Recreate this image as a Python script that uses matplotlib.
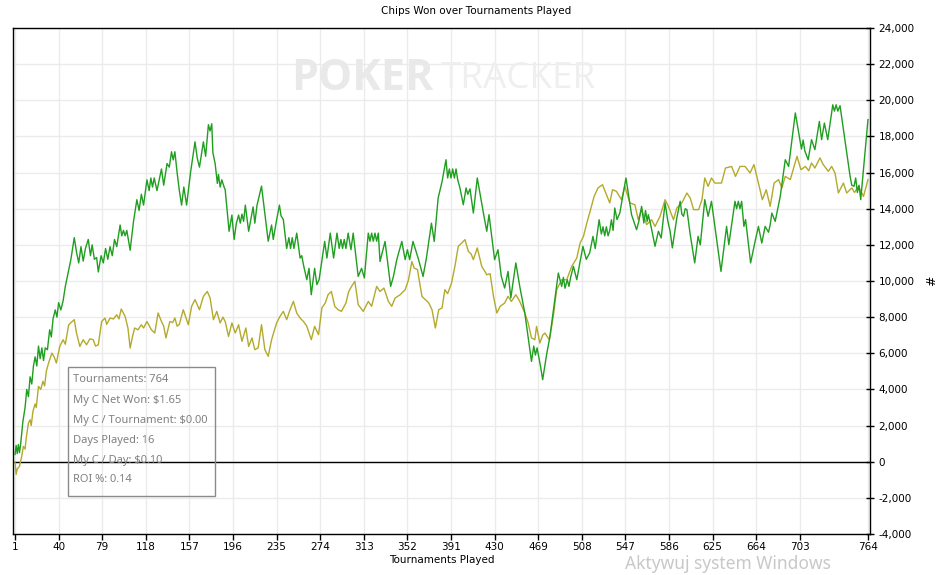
import matplotlib
matplotlib.use("Agg")
import matplotlib.pyplot as plt
from matplotlib.patches import Rectangle
from matplotlib.ticker import FuncFormatter

# ---------------- data ----------------
GREEN_T = [1, 2, 3, 4, 5, 6, 8, 10, 11.5, 13, 14.5, 16, 17.5, 19, 20.5, 22, 23.5, 25, 26.5, 28, 30, 32, 33.5, 35, 37, 38.5, 40, 42, 44, 46, 49, 51, 54, 56, 58, 60, 62, 64, 66.5, 68.5, 70, 72, 74, 75.5, 78, 80, 82, 84, 86, 88, 90, 92, 95, 96.5, 98, 99.5, 101, 104, 107, 110, 112, 114, 116, 119, 121, 122.5, 124, 125.5, 128, 132, 134, 137, 139, 141, 142.5, 144, 146, 148, 150, 152, 154.5, 158, 162, 164, 166, 169.5, 171.5, 174, 175.5, 177, 178, 180, 182, 183, 184.5, 186, 188, 189, 192.5, 195, 197, 199, 201, 202.5, 204, 205.5, 207, 210, 214, 215.5, 217.5, 221.5, 227.5, 230.5, 232, 234.5, 237.5, 239, 241, 244, 246, 247.5, 249, 250.5, 253, 256, 257.5, 259, 262, 264, 266, 269, 271, 273, 278, 280, 283, 286, 289, 291, 292.5, 294, 295.5, 297, 299, 301.5, 303.5, 308, 311, 313.5, 317, 318.5, 320, 321.5, 323, 324.5, 326, 327.5, 332, 337, 339.5, 342.5, 347, 350, 352, 354, 357, 362, 366, 369, 373.5, 376, 379.5, 383, 386.5, 388, 389.5, 391, 392.5, 394, 395.5, 397, 399, 402, 404.5, 406, 408, 411, 414.5, 420, 423, 425, 430, 433, 436, 439, 442, 444.5, 449, 452.5, 457, 463, 465, 466.5, 468, 471, 473, 476.5, 479.5, 487, 490, 491.5, 493, 495, 496.5, 498, 500.5, 503.5, 509, 512, 515, 518, 520, 523.5, 525.5, 527, 528.5, 530, 531.5, 533, 534.5, 536, 537.5, 539.5, 542, 547.5, 552.5, 557, 559, 561.5, 563.5, 565, 566.5, 567.5, 570, 573.5, 576.5, 579, 582.5, 585, 587, 589, 593, 596, 597.5, 599, 600.5, 602, 605, 609, 612, 614, 618, 621, 624, 632.5, 637.5, 639.5, 645, 646.5, 648, 649.5, 651, 653, 654.5, 659, 663, 664.5, 666, 669, 672, 675, 676.5, 678, 681, 685.5, 690, 693, 699, 703, 704.5, 706, 707.5, 710.5, 713.5, 716.5, 720.5, 722.5, 725, 728, 732.5, 734, 735.5, 737, 739, 748, 749.5, 751.5, 753, 754.5, 756, 757.5, 764]
GREEN_V = [400, 900, 450, 950, 500, 950, 2200, 3000, 4000, 3600, 4700, 4300, 5300, 5800, 5300, 6400, 5700, 6300, 5600, 6300, 6200, 7300, 6900, 7900, 8400, 8000, 8800, 8400, 8900, 9700, 10600, 11200, 12400, 11600, 11000, 11900, 11100, 11800, 12300, 11400, 12000, 11200, 11300, 10500, 11400, 11000, 11800, 11200, 11900, 11400, 12300, 11900, 13100, 12500, 12800, 12500, 12800, 11700, 13300, 14500, 13900, 14800, 14200, 15600, 15000, 15700, 15200, 15700, 15000, 16200, 15300, 16500, 16300, 17150, 16700, 17150, 16000, 15000, 14200, 15200, 14200, 16000, 17700, 16800, 16300, 17700, 16900, 18650, 18300, 18700, 17100, 16500, 15400, 15900, 15200, 15600, 15200, 15050, 12750, 13650, 12300, 13200, 13650, 13200, 13700, 13300, 14200, 12750, 14100, 13200, 14200, 15250, 12200, 13100, 12300, 13200, 14200, 13600, 13400, 11800, 12400, 11800, 12400, 11800, 12650, 11270, 11400, 10900, 10070, 10700, 9240, 10700, 9800, 10070, 12190, 11270, 12650, 11270, 12650, 11800, 12300, 11800, 12300, 11800, 12650, 11730, 12650, 10250, 10700, 10170, 12650, 12200, 12650, 12200, 12650, 12200, 12650, 11080, 12190, 9700, 10250, 11180, 12190, 11180, 11730, 11180, 12190, 11180, 10250, 11270, 13200, 12190, 14590, 15500, 16710, 15700, 16200, 15700, 16200, 15700, 16200, 15600, 15150, 14220, 15150, 14800, 15100, 13760, 15700, 13760, 12750, 13670, 11180, 11730, 10250, 9610, 10530, 9060, 11000, 9700, 8230, 5550, 6400, 5900, 6300, 5300, 4540, 5920, 6930, 10440, 9700, 10200, 9600, 10070, 9700, 10200, 10810, 10070, 11920, 11200, 11550, 12470, 11800, 13390, 12600, 13000, 12500, 13000, 12500, 12800, 13390, 12800, 14040, 13400, 13760, 15700, 13670, 12840, 13300, 14130, 13210, 13900, 13300, 13670, 13000, 11920, 12750, 12380, 14320, 13300, 12750, 11830, 13490, 14410, 13700, 13580, 14000, 13950, 12560, 11000, 12470, 12000, 14500, 13580, 14410, 10530, 13020, 12010, 14410, 14000, 14410, 14000, 14410, 13020, 13400, 11000, 12190, 12600, 13020, 12100, 13020, 12700, 13100, 13760, 13300, 14680, 16710, 16340, 19300, 17820, 17300, 17800, 17200, 16710, 17820, 17270, 18830, 17820, 18740, 17820, 19750, 19400, 19750, 19400, 19700, 15790, 15300, 15240, 15700, 14900, 15300, 14500, 18930]

OLIVE_T = [1, 2, 3, 5, 7, 8.5, 10, 11, 13, 14.5, 15.5, 17, 19, 20, 22, 24, 26, 27.5, 29, 31, 34, 36, 38, 41, 44, 46, 49, 54, 56, 59, 62, 65, 68, 71, 73, 75.5, 78.5, 81.5, 83, 86, 89, 92, 94, 96, 99.5, 102, 104, 106, 108, 111, 114, 116, 119, 123, 126, 129, 132, 134, 136, 139.5, 142, 144, 146, 148, 151.5, 156, 159, 162, 166, 169.5, 173, 175.5, 178.5, 181.5, 184.5, 187, 189, 192, 195, 198, 201, 204, 207.5, 210, 213, 215.5, 218.5, 221.5, 224.5, 227.5, 230.5, 235, 238, 241, 244, 247, 250, 253, 256, 259, 262, 266, 269, 272.5, 275.5, 278.5, 281, 284, 287, 290, 293, 297, 299.5, 302, 305, 308, 312.5, 317, 320, 324.5, 327.5, 331, 335, 338, 341, 345.5, 350, 353, 356, 358, 361, 365, 368, 371, 374, 377, 380, 383, 385.5, 388, 391.5, 394.5, 397.5, 400.5, 403.5, 406.5, 409, 411, 414.5, 418.5, 423, 426, 429, 432, 435, 439, 442, 445, 449, 452.5, 457, 460, 463, 466, 467.5, 470.5, 473, 475, 479, 482.5, 485.5, 490, 494.5, 499, 503.5, 506.5, 509.5, 512.5, 515, 519, 522.5, 526.5, 530, 533, 535.5, 539, 543.5, 546.5, 551, 555.5, 558.5, 561.5, 566, 570.5, 573.5, 578, 582.5, 585.5, 590, 593, 597.5, 602, 605, 608, 612.5, 615.5, 618, 621, 624, 627, 633, 636.5, 642, 645.5, 649.5, 654, 658.5, 662, 666, 669.5, 673, 676.5, 680, 684, 687, 690, 694.5, 700.5, 704, 708, 711, 713.5, 716.5, 721, 724, 728.5, 731.5, 734.5, 737.5, 742, 745, 749.5, 752, 755.5, 760, 764]
OLIVE_V = [0, -700, -400, -260, 300, 850, 700, 1300, 2140, 2320, 2000, 2780, 3200, 3000, 4170, 4000, 4450, 4200, 5000, 5460, 6010, 5800, 5460, 6380, 6750, 6500, 7580, 7860, 7120, 6380, 6750, 6470, 6800, 6750, 6400, 6470, 7760, 7950, 7600, 7950, 7900, 8130, 7900, 8450, 8040, 7400, 6290, 6900, 7400, 7300, 7580, 7400, 7760, 7300, 7120, 8230, 7760, 7500, 6850, 7760, 7700, 7950, 7500, 7600, 8410, 7580, 8600, 8970, 8410, 9150, 9420, 9060, 7860, 8320, 7680, 8000, 7760, 6930, 7680, 7120, 7580, 6660, 7400, 6380, 6850, 6200, 6300, 7580, 6200, 5830, 6750, 7680, 8040, 8320, 7860, 8410, 8870, 8230, 7950, 7760, 7500, 6750, 7490, 7030, 8510, 8780, 9240, 9420, 8600, 8410, 8320, 8780, 9420, 9700, 9980, 8690, 8320, 8870, 8600, 9700, 9420, 9610, 8870, 8600, 9060, 9240, 9520, 10070, 11080, 10720, 10630, 9150, 8970, 8800, 8410, 7400, 8410, 8510, 9520, 9300, 9890, 10810, 11920, 12100, 12290, 11640, 11500, 11180, 11830, 10810, 10350, 10400, 9150, 8230, 8600, 8780, 9150, 8870, 9240, 8870, 8230, 7680, 6850, 6750, 7490, 6570, 7000, 7120, 6750, 8040, 9520, 10070, 10070, 10810, 11270, 12100, 12470, 13210, 13760, 14680, 15150, 15330, 14780, 14320, 15050, 14960, 14500, 15240, 14320, 14220, 13390, 13950, 13120, 13390, 13020, 13580, 14500, 14130, 13390, 14040, 14320, 14870, 14590, 13950, 13950, 14500, 15700, 15240, 15700, 15420, 15420, 16250, 16340, 15790, 16340, 16340, 15980, 16440, 15420, 14500, 15050, 14130, 15420, 15610, 15150, 15790, 15610, 16900, 16160, 16340, 16100, 16530, 16250, 16810, 16440, 16070, 16340, 15980, 14870, 15420, 14870, 15150, 14900, 15240, 14680, 15610]

X_TICKS = [1, 40, 79, 118, 157, 196, 235, 274, 313, 352, 391, 430, 469, 508, 547, 586, 625, 664, 703, 764]
Y_TICKS = list(range(-4000, 24001, 2000))

STATS = ["Tournaments: 764", "My C Net Won: $1.65", "My C / Tournament: $0.00",
         "Days Played: 16", "My C / Day: $0.10", "ROI %: 0.14"]

TITLE = "Chips Won over Tournaments Played"
XLABEL = "Tournaments Played"
YLABEL = "#"

# ---------------- figure ----------------
W, H = 953, 575
fig = plt.figure(figsize=(W / 100, H / 100), dpi=100)
fig.patch.set_facecolor("white")

def fx(px):
    return px / W

def fy(py):
    return 1 - py / H

ax = fig.add_axes([fx(13), fy(534), fx(870) - fx(13), fy(28) - fy(534)])
ax.set_facecolor("white")

ax.set_xlim(-0.8, 765.8)
ax.set_ylim(-4000, 24000)

ax.set_xticks(X_TICKS)
ax.set_yticks(Y_TICKS)
ax.grid(True, color="#ebebeb", linewidth=1.0, zorder=0)
ax.set_axisbelow(True)

ax.yaxis.tick_right()
ax.yaxis.set_label_position("right")
ax.yaxis.set_major_formatter(FuncFormatter(lambda v, p: f"{int(v):,}"))
ax.tick_params(axis="y", direction="inout", length=6, width=1, labelsize=7.5, pad=3, colors="black")
ax.tick_params(axis="x", direction="out", length=4, width=1, labelsize=7.5, pad=2, colors="black")

for s in ax.spines.values():
    s.set_color("black")
    s.set_linewidth(1.0)

ax.axhline(0, color="black", linewidth=1.0, zorder=2)

ax.plot(OLIVE_T, OLIVE_V, color="#b3aa2c", linewidth=1.0, zorder=3)
ax.plot(GREEN_T, GREEN_V, color="#1f9e1f", linewidth=1.0, zorder=4)

ax.set_xlabel(XLABEL, fontsize=7.5, labelpad=2)
ax.set_ylabel(YLABEL, fontsize=9, rotation=90, labelpad=8)
ax.yaxis.set_label_coords(1.064, 0.5)

fig.text(0.5, fy(11), TITLE, ha="center", va="center", fontsize=7.5)

# watermark
fig.text(fx(291), fy(79), "POKER", ha="left", va="center", fontsize=31,
         fontweight="bold", color="#e9e9e9", family="Open Sans", zorder=1)
fig.text(fx(441), fy(79), "TRACKER", ha="left", va="center", fontsize=26.5,
         color="#efefef", family="Open Sans", zorder=1)

# stats box
fig.patches.append(Rectangle((fx(68), fy(496)), fx(215) - fx(68), fy(367) - fy(496),
                             transform=fig.transFigure, fill=False,
                             edgecolor="#8a8a8a", linewidth=1.0, zorder=5))
for i, line in enumerate(STATS):
    fig.text(fx(73), fy(380 + 20 * i), line, ha="left", va="center", fontsize=8,
             color="#808080", family="Noto Sans", zorder=6)

# windows activation overlay
fig.text(fx(625), fy(564), "Aktywuj system Windows", ha="left", va="center",
         fontsize=12.5, color="#c8c8c8", family="Noto Sans")

fig.savefig("out.png", dpi=100, facecolor="white")
